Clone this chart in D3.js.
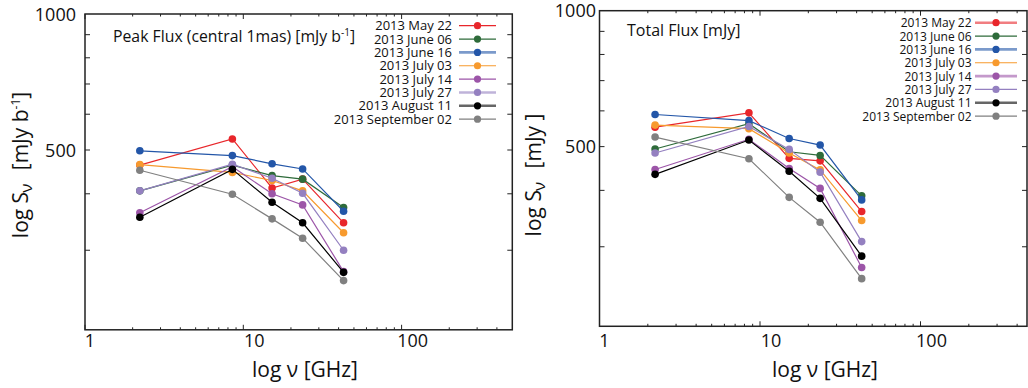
<!DOCTYPE html>
<html>
<head>
<meta charset="utf-8">
<script src="https://cdn.jsdelivr.net/npm/d3@7"></script>
<style>
  body { margin: 0; background: #fff; }
  svg { display: block; }
  text { font-family: "Open Sans", sans-serif; fill: #111; }
</style>
</head>
<body>
<svg width="1028" height="388"></svg>
<script>
// observing frequencies [GHz]
const freqs = [2.22, 8.53, 15.2, 23.7, 43.0];
const epochs = ["2013 May 22", "2013 June 06", "2013 June 16", "2013 July 03",
                "2013 July 14", "2013 July 27", "2013 August 11", "2013 September 02"];
const colors = ["#e8262b", "#2e6b3a", "#2356a8", "#f79a2e", "#9c55a8", "#9480c0", "#000000", "#808080"];

// peak flux (central 1 mas) [mJy/beam], one row per epoch
const peakFlux = [
  [463, 529, 412, 431, 345],
  [406, 463, 439, 431, 373],
  [498, 486, 466, 454, 366],
  [464, 446, 428, 406, 328],
  [363, 459, 400, 378, 269],
  [406, 465, 433, 401, 300],
  [355, 453, 383, 345, 268],
  [451, 399, 352, 319, 257]
];
// total flux [mJy]
const totalFlux = [
  [552, 594, 471, 465, 359],
  [494, 562, 487, 478, 389],
  [589, 571, 521, 504, 381],
  [558, 548, 484, 444, 343],
  [445, 519, 447, 404, 270],
  [484, 554, 493, 439, 308],
  [434, 517, 441, 384, 286],
  [525, 470, 386, 340, 255]
];

const xMajor = [1, 10, 100];
const xMinor = [2, 3, 4, 5, 6, 7, 8, 9, 20, 30, 40, 50, 60, 70, 80, 90, 200, 300, 400];
const yLabelled = [500, 1000];
const yMinor = [300, 400, 600, 700, 800, 900];

const svg = d3.select('svg');

const panels = [
  { data: peakFlux, x0: 85, decX: 158.3, xRight: 512.3, y0: 14, decY: 451.8,
    title: ['Peak Flux (central 1mas) [mJy b', '-1', ']'], titleX: 113, titleY: 41.5, titleFont: 15.8,
    yTitle: ['[mJy b', '-1', ']'], yTitleX: 28, yTitleY: 165, yTickEnd: 76,
    xTitleX: 305, legX: 452, legY: 25.7, legLine: [459, 496], legFont: 13,
    thick: [2, 5, 6] },
  { data: totalFlux, x0: 599.5, decX: 160.5, xRight: 1027, y0: 10.7, decY: 451.5,
    title: ['Total Flux [mJy]'], titleX: 627, titleY: 35.5, titleFont: 16,
    yTitle: ['[mJy ]'], yTitleX: 541, yTitleY: 175, yTickEnd: 596,
    xTitleX: 825, legX: 971.5, legY: 22.7, legLine: [975, 1017], legFont: 12,
    thick: [0, 2, 4, 6] }
];

panels.forEach(p => {
  const x = d3.scaleLog().domain([1, 500]).range([p.x0, p.x0 + p.decX * Math.log10(500)]);
  const y = d3.scaleLog().domain([200, 1000]).range([p.y0 + p.decY * Math.log10(5), p.y0]);
  const g = svg.append('g');
  const top = y(1000), bottom = y(200), left = x(1), right = p.xRight;

  // inward ticks on all four sides
  const tick = (x1, y1, x2, y2) => g.append('line')
    .attr('x1', x1).attr('y1', y1).attr('x2', x2).attr('y2', y2)
    .attr('stroke', '#222').attr('stroke-width', 1);
  xMajor.concat(xMinor).forEach(v => {
    const len = xMajor.includes(v) ? 5 : 2.5;
    tick(x(v), bottom, x(v), bottom - len);
    tick(x(v), top, x(v), top + len);
  });
  yMinor.concat([500]).forEach(v => {
    tick(left, y(v), left + 5, y(v));
    tick(right, y(v), right - 5, y(v));
  });

  g.append('rect')
    .attr('x', left).attr('y', top)
    .attr('width', right - left).attr('height', bottom - top)
    .attr('fill', 'none').attr('stroke', '#222').attr('stroke-width', 1.5);

  // tick labels
  g.selectAll('.xl').data(xMajor).enter().append('text')
    .attr('x', d => x(d) + (d === 1 ? 5 : 11)).attr('y', 347)
    .attr('text-anchor', 'middle').attr('font-size', 18)
    .text(d => d);
  g.selectAll('.yl').data(yLabelled).enter().append('text')
    .attr('x', p.yTickEnd).attr('y', d => y(d) + 6.5)
    .attr('text-anchor', 'end').attr('font-size', 18)
    .text(d => d);

  // axis titles
  const xt = g.append('text').attr('x', p.xTitleX).attr('y', 377)
    .attr('text-anchor', 'middle').attr('font-size', 21);
  xt.append('tspan').text('log ');
  xt.append('tspan').text('ν');
  xt.append('tspan').text(' [GHz]');

  const yt = g.append('text')
    .attr('transform', `translate(${p.yTitleX},${p.yTitleY}) rotate(-90)`)
    .attr('text-anchor', 'middle').attr('font-size', 21);
  yt.append('tspan').text('log S');
  yt.append('tspan').text('ν').attr('font-size', 17).attr('dy', 4).attr('dx', -1);
  yt.append('tspan').text('  ' + p.yTitle[0]).attr('dy', -4).attr('dx', 8);
  if (p.yTitle.length > 1) {
    yt.append('tspan').text(p.yTitle[1]).attr('font-size', 12).attr('dy', -8);
    yt.append('tspan').text(p.yTitle[2]).attr('dy', 8);
  }

  const tt = g.append('text').attr('x', p.titleX).attr('y', p.titleY).attr('font-size', p.titleFont);
  tt.append('tspan').text(p.title[0]);
  if (p.title.length > 1) {
    tt.append('tspan').text(p.title[1]).attr('font-size', 10).attr('dy', -6);
    tt.append('tspan').text(p.title[2]).attr('dy', 6);
  }

  // series
  const line = d3.line().x((d, i) => x(freqs[i])).y(d => y(d));
  p.data.forEach((vals, s) => {
    g.append('path').datum(vals)
      .attr('d', line)
      .attr('fill', 'none').attr('stroke', colors[s]).attr('stroke-width', 1.2);
    g.selectAll(null).data(vals).enter().append('circle')
      .attr('cx', (d, i) => x(freqs[i])).attr('cy', d => y(d))
      .attr('r', 3.8).attr('fill', colors[s]);
  });

  // legend
  epochs.forEach((name, s) => {
    const ly = p.legY + 13.35 * s;
    const thick = p.thick.includes(s);
    g.append('text').attr('x', p.legX).attr('y', ly + 4.5)
      .attr('text-anchor', 'end').attr('font-size', p.legFont).text(name);
    g.append('line')
      .attr('x1', p.legLine[0]).attr('x2', p.legLine[1]).attr('y1', ly).attr('y2', ly)
      .attr('stroke', colors[s]).attr('stroke-width', thick ? 2.6 : 1.2)
      .attr('stroke-opacity', thick ? 0.6 : 1);
    g.append('circle').attr('cx', (p.legLine[0] + p.legLine[1]) / 2).attr('cy', ly)
      .attr('r', 3.6).attr('fill', colors[s]);
  });
});
</script>
</body>
</html>
